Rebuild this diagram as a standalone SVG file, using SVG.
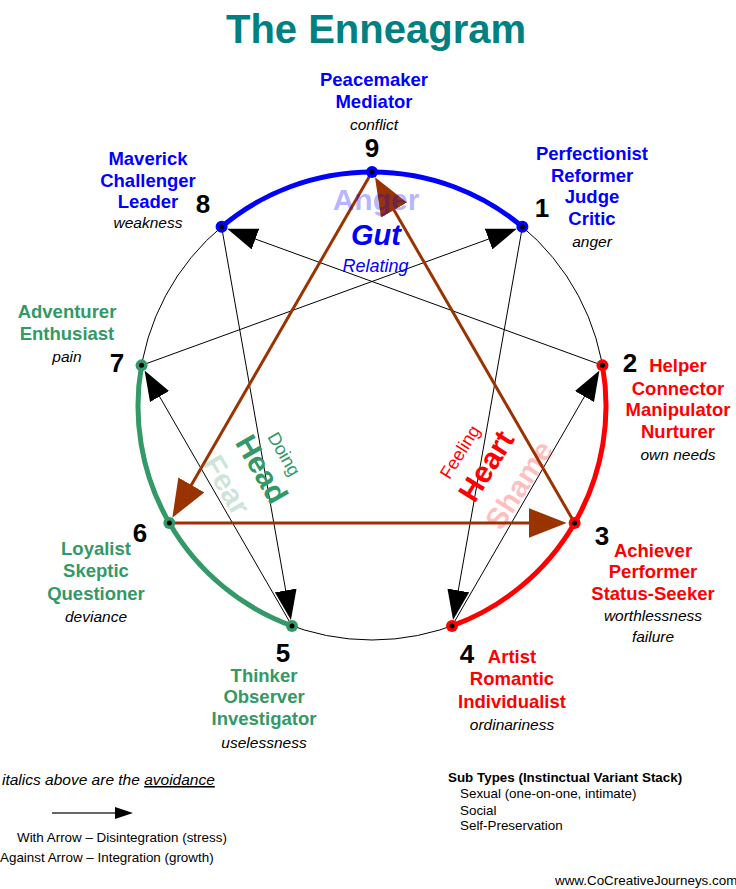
<svg xmlns="http://www.w3.org/2000/svg" width="736" height="889" viewBox="0 0 736 889">
<defs>
<style>
text{font-family:"Liberation Sans",Arial,sans-serif}
.num{font-weight:bold;font-size:26px;text-anchor:middle;fill:#000}
.lb{font-weight:bold;font-size:18.5px;text-anchor:middle}
.it{font-style:italic;font-size:15.5px;text-anchor:middle;fill:#000}
.blue{fill:#0000FF}
.red{fill:#FF0000}
.green{fill:#339966}
.hex{stroke:#000;stroke-width:1;fill:none;marker-end:url(#ah)}
.tri{stroke:#993300;stroke-width:3;fill:none;marker-end:url(#bh)}
.leg{font-size:13.4px;fill:#000}
.core{fill:#000}
</style>
<marker id="ah" markerUnits="userSpaceOnUse" markerWidth="30" markerHeight="22" refX="25" refY="11" orient="auto" viewBox="0 0 30 22">
<path d="M0,0 L30,11 L0,22 z" fill="#000"/>
</marker>
<marker id="bh" markerUnits="userSpaceOnUse" markerWidth="38" markerHeight="30" refX="28" refY="15" orient="auto" viewBox="0 0 38 30">
<path d="M0,0 L38,15 L0,30 z" fill="#993300"/>
</marker>
<marker id="lh" markerUnits="userSpaceOnUse" markerWidth="18" markerHeight="12" refX="0" refY="6" orient="auto" viewBox="0 0 18 12">
<path d="M0,0 L18,6 L0,12 z" fill="#000"/>
</marker>
</defs>
<rect width="736" height="889" fill="#fff"/>
<text x="376" y="43" style="font-weight:bold;font-size:40px;fill:#008080;text-anchor:middle">The Enneagram</text>

<g id="circle">
<circle cx="372" cy="406" r="234" fill="none" stroke="#000" stroke-width="1"/>
<path d="M221.59,226.75 A234,234 0 0 1 522.41,226.75" fill="none" stroke="#0000FF" stroke-width="5"/>
<path d="M602.45,365.37 A234,234 0 0 1 452.03,625.89" fill="none" stroke="#FF0000" stroke-width="5"/>
<path d="M291.97,625.89 A234,234 0 0 1 141.55,365.37" fill="none" stroke="#339966" stroke-width="5"/>
</g>

<g id="connectors">
<line class="hex" x1="522.41" y1="226.75" x2="453.94" y2="615.06"/>
<line class="hex" x1="452.03" y1="625.89" x2="596.95" y2="374.9"/>
<line class="hex" x1="602.45" y1="365.37" x2="231.93" y2="230.51"/>
<line class="hex" x1="221.59" y1="226.75" x2="290.06" y2="615.06"/>
<line class="hex" x1="291.97" y1="625.89" x2="147.05" y2="374.9"/>
<line class="hex" x1="141.55" y1="365.37" x2="512.07" y2="230.51"/>
<line class="tri" x1="372" y1="172" x2="177.35" y2="509.14"/>
<line class="tri" x1="169.35" y1="523" x2="556.65" y2="523"/>
<line class="tri" x1="574.65" y1="523" x2="380" y2="185.86"/>
</g>

<g id="centers">
<text x="376" y="210" style="font-weight:bold;font-size:30px;text-anchor:middle;fill:#0000FF;fill-opacity:0.3">Anger</text>
<text x="376" y="245" style="font-weight:bold;font-style:italic;font-size:29px;text-anchor:middle;fill:#0000FF">Gut</text>
<text x="375.5" y="272" style="font-style:italic;font-size:18px;text-anchor:middle;fill:#0000FF">Relating</text>
<g transform="translate(284,454) rotate(60)"><text y="6" style="font-size:18px;text-anchor:middle;fill:#339966">Doing</text></g>
<g transform="translate(262,469) rotate(60)"><text y="10.5" style="font-weight:bold;font-size:30px;text-anchor:middle;fill:#339966">Head</text></g>
<g transform="translate(227,485) rotate(60)"><text y="10.5" style="font-weight:bold;font-size:30px;text-anchor:middle;fill:#339966;fill-opacity:0.25">Fear</text></g>
<g transform="translate(460,452) rotate(-58)"><text y="6" style="font-size:18px;text-anchor:middle;fill:#FF0000">Feeling</text></g>
<g transform="translate(486,466) rotate(-58)"><text y="10.5" style="font-weight:bold;font-size:30px;text-anchor:middle;fill:#FF0000">Heart</text></g>
<g transform="translate(519,485) rotate(-57)"><text y="10.5" style="font-weight:bold;font-size:30px;text-anchor:middle;fill:#FF0000;fill-opacity:0.25">Shame</text></g>
</g>

<g id="node-9">
<circle cx="372" cy="172" r="6" class="blue"/><circle cx="372" cy="172" r="2.5" class="core"/>
<text class="num" x="372" y="157">9</text>
<text class="lb blue" x="374" y="86">Peacemaker</text>
<text class="lb blue" x="374" y="108">Mediator</text>
<text class="it" x="374" y="130">conflict</text>
</g>
<g id="node-1">
<circle cx="522.41" cy="226.75" r="6" class="blue"/><circle cx="522.41" cy="226.75" r="2.5" class="core"/>
<text class="num" x="542" y="217">1</text>
<text class="lb blue" x="592" y="160">Perfectionist</text>
<text class="lb blue" x="592" y="182">Reformer</text>
<text class="lb blue" x="592" y="203">Judge</text>
<text class="lb blue" x="592" y="225">Critic</text>
<text class="it" x="592" y="247">anger</text>
</g>
<g id="node-2">
<circle cx="602.45" cy="365.37" r="6" class="red"/><circle cx="602.45" cy="365.37" r="2.5" class="core"/>
<text class="num" x="630" y="372">2</text>
<text class="lb red" x="678" y="372">Helper</text>
<text class="lb red" x="678" y="395">Connector</text>
<text class="lb red" x="678" y="416">Manipulator</text>
<text class="lb red" x="678" y="438">Nurturer</text>
<text class="it" x="678" y="460">own needs</text>
</g>
<g id="node-3">
<circle cx="574.65" cy="523" r="6" class="red"/><circle cx="574.65" cy="523" r="2.5" class="core"/>
<text class="num" x="602" y="545">3</text>
<text class="lb red" x="653" y="557">Achiever</text>
<text class="lb red" x="653" y="578">Performer</text>
<text class="lb red" x="653" y="600">Status-Seeker</text>
<text class="it" x="653" y="621">worthlessness</text>
<text class="it" x="653" y="642">failure</text>
</g>
<g id="node-4">
<circle cx="452.03" cy="625.89" r="6" class="red"/><circle cx="452.03" cy="625.89" r="2.5" class="core"/>
<text class="num" x="467" y="663">4</text>
<text class="lb red" x="512" y="663">Artist</text>
<text class="lb red" x="512" y="685">Romantic</text>
<text class="lb red" x="512" y="708">Individualist</text>
<text class="it" x="512" y="730">ordinariness</text>
</g>
<g id="node-5">
<circle cx="291.97" cy="625.89" r="6" class="green"/><circle cx="291.97" cy="625.89" r="2.5" class="core"/>
<text class="num" x="283" y="662">5</text>
<text class="lb green" x="264" y="682">Thinker</text>
<text class="lb green" x="264" y="703">Observer</text>
<text class="lb green" x="264" y="725">Investigator</text>
<text class="it" x="264" y="748">uselessness</text>
</g>
<g id="node-6">
<circle cx="169.35" cy="523" r="6" class="green"/><circle cx="169.35" cy="523" r="2.5" class="core"/>
<text class="num" x="140" y="542">6</text>
<text class="lb green" x="96" y="555">Loyalist</text>
<text class="lb green" x="96" y="577">Skeptic</text>
<text class="lb green" x="96" y="600">Questioner</text>
<text class="it" x="96" y="622">deviance</text>
</g>
<g id="node-7">
<circle cx="141.55" cy="365.37" r="6" class="green"/><circle cx="141.55" cy="365.37" r="2.5" class="core"/>
<text class="num" x="117" y="372">7</text>
<text class="lb green" x="67" y="318">Adventurer</text>
<text class="lb green" x="67" y="340">Enthusiast</text>
<text class="it" x="67" y="362">pain</text>
</g>
<g id="node-8">
<circle cx="221.59" cy="226.75" r="6" class="blue"/><circle cx="221.59" cy="226.75" r="2.5" class="core"/>
<text class="num" x="203" y="213">8</text>
<text class="lb blue" x="148" y="165">Maverick</text>
<text class="lb blue" x="148" y="187">Challenger</text>
<text class="lb blue" x="148" y="208">Leader</text>
<text class="it" x="148" y="228">weakness</text>
</g>

<g id="legend">
<text x="2" y="785" style="font-style:italic;font-size:15.5px;fill:#000">italics above are the <tspan text-decoration="underline">avoidance</tspan></text>
<line x1="52" y1="813" x2="115" y2="813" stroke="#666" stroke-width="2" marker-end="url(#lh)"/>
<text class="leg" x="17" y="842">With Arrow – Disintegration (stress)</text>
<text class="leg" x="0" y="862">Against Arrow – Integration (growth)</text>
<text class="leg" x="448" y="782" style="font-weight:bold">Sub Types (Instinctual Variant Stack)</text>
<text class="leg" x="460" y="798">Sexual (one-on-one, intimate)</text>
<text class="leg" x="460" y="815">Social</text>
<text class="leg" x="460" y="830">Self-Preservation</text>
<text class="leg" x="555" y="885">www.CoCreativeJourneys.com</text>
</g>
</svg>
